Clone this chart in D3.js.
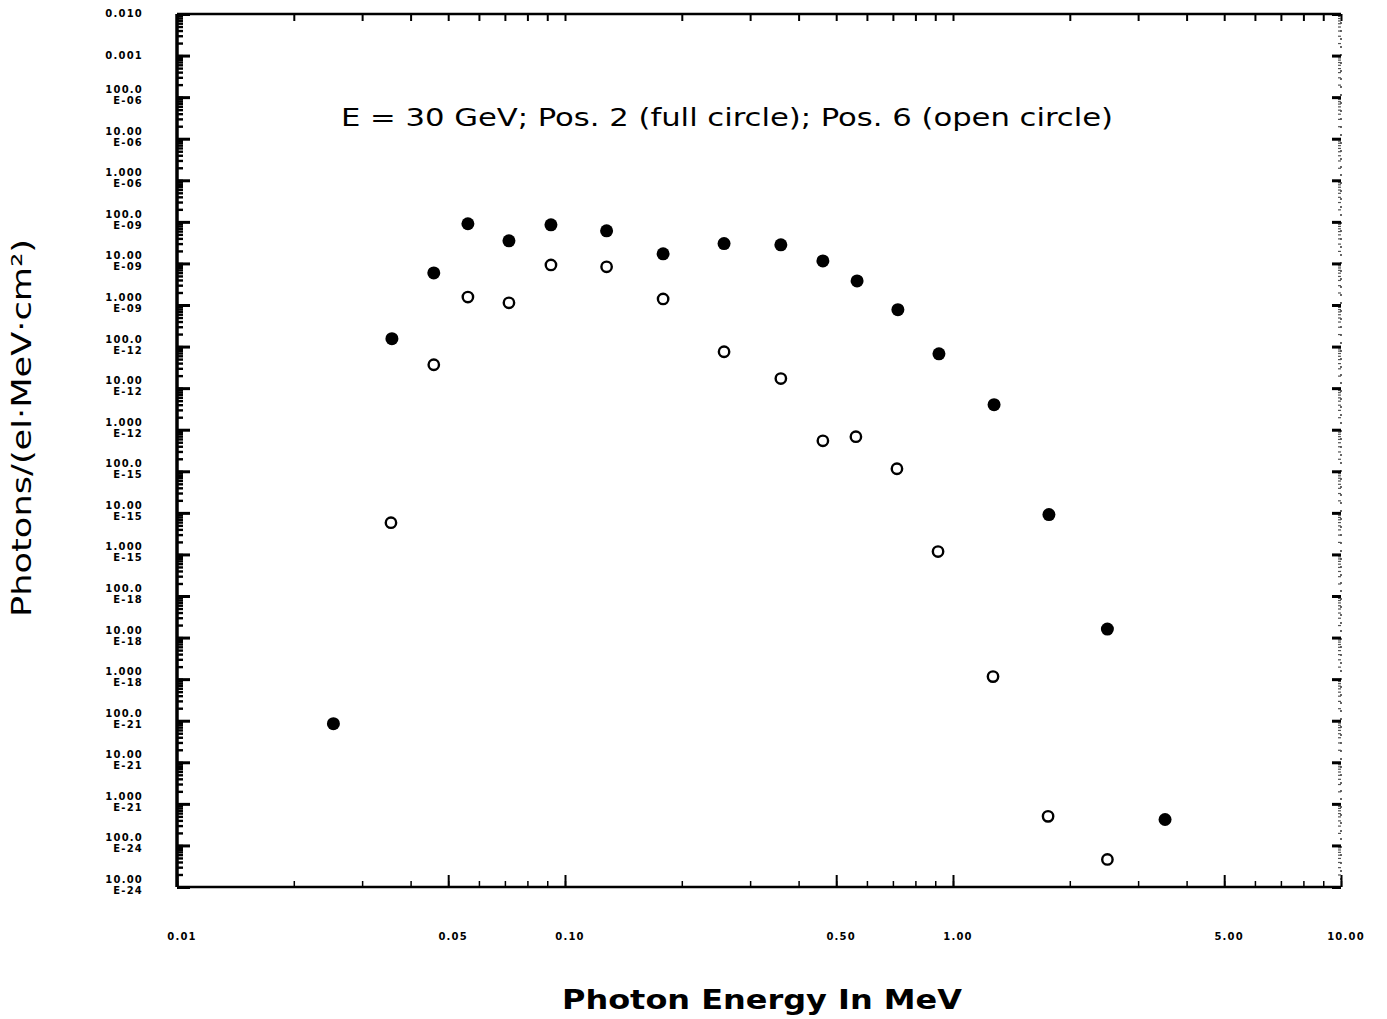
<!DOCTYPE html>
<html>
<head>
<meta charset="utf-8">
<script src="https://cdn.jsdelivr.net/npm/d3@7"></script>
<style>
  body { margin: 0; background: #fff; }
  svg { display: block; }
  .tickLabel { font-family: "DejaVu Sans", sans-serif; font-weight: bold; font-size: 10px; letter-spacing: 1.2px; fill: #000; }
  .axisLabel { font-family: "DejaVu Sans", sans-serif; fill: #000; }
  .note { font-family: "DejaVu Sans Condensed", "DejaVu Sans", sans-serif; font-size: 24px; fill: #000; }
  .full { fill: #000; }
  .open { fill: none; stroke: #000; stroke-width: 2.4; }
</style>
</head>
<body>
<script>
// photon energies (MeV) of the measured points
let energyFull = [0.0253, 0.0358, 0.0459, 0.0562, 0.0717, 0.092, 0.128, 0.179, 0.257, 0.36, 0.462, 0.566, 0.721, 0.92, 1.276, 1.767, 2.5, 3.52];
// Pos. 2 (full circle)
let fluxFull = [8.5e-20, 1.55e-10, 5.9e-9, 9.0e-8, 3.5e-8, 8.5e-8, 6.1e-8, 1.7e-8, 3.0e-8, 2.8e-8, 1.15e-8, 3.8e-9, 7.7e-10, 6.7e-11, 4.0e-12, 9.1e-15, 1.6e-17, 4.2e-22];

let energyOpen = [0.0356, 0.0459, 0.0562, 0.0717, 0.092, 0.128, 0.179, 0.257, 0.36, 0.462, 0.562, 0.717, 0.915, 1.268, 1.758, 2.5];
// Pos. 6 (open circle)
let fluxOpen = [5.8e-15, 3.65e-11, 1.55e-9, 1.13e-9, 9.2e-9, 8.3e-9, 1.4e-9, 7.5e-11, 1.7e-11, 5.4e-13, 6.8e-13, 1.15e-13, 1.17e-15, 1.15e-18, 5.0e-22, 4.6e-23];

// axis ticks and their printed labels (as on the original plot)
let xTickValues = [0.01, 0.05, 0.1, 0.5, 1, 5, 10];
let xTickLabels = ["0.01", "0.05", "0.10", "0.50", "1.00", "5.00", "10.00"];

let yTickValues = [1e-2, 1e-3, 1e-4, 1e-5, 1e-6, 1e-7, 1e-8, 1e-9, 1e-10, 1e-11, 1e-12,
                   1e-13, 1e-14, 1e-15, 1e-16, 1e-17, 1e-18, 1e-19, 1e-20, 1e-21, 1e-22, 1e-23];
let yTickLabels = [["0.010"], ["0.001"],
  ["100.0", "E-06"], ["10.00", "E-06"], ["1.000", "E-06"],
  ["100.0", "E-09"], ["10.00", "E-09"], ["1.000", "E-09"],
  ["100.0", "E-12"], ["10.00", "E-12"], ["1.000", "E-12"],
  ["100.0", "E-15"], ["10.00", "E-15"], ["1.000", "E-15"],
  ["100.0", "E-18"], ["10.00", "E-18"], ["1.000", "E-18"],
  ["100.0", "E-21"], ["10.00", "E-21"], ["1.000", "E-21"],
  ["100.0", "E-24"], ["10.00", "E-24"]];

let svgWidth = 1387, svgHeight = 1019;
let plotLeft = 177, plotRight = 1341, plotTop = 14, plotBottom = 887;

let xScale = d3.scaleLog().domain([0.01, 10]).range([plotLeft, plotRight]);
let yScale = d3.scaleLog().domain([1e-2, 1e-23]).range([plotTop, plotBottom]);

let svg = d3.select("body").append("svg")
  .attr("width", svgWidth)
  .attr("height", svgHeight);

// minor tick positions for the log axes
let xMinor = xScale.ticks();
let yMinor = [];
for (let e = -23; e <= -3; e++) {
  for (let k = 1; k < 10; k++) yMinor.push(k * Math.pow(10, e));
}

// frame
svg.append("line").attr("x1", plotLeft).attr("x2", plotRight).attr("y1", plotTop).attr("y2", plotTop)
  .attr("stroke", "#000").attr("stroke-width", 2.5);
svg.append("line").attr("x1", plotLeft).attr("x2", plotRight).attr("y1", plotBottom).attr("y2", plotBottom)
  .attr("stroke", "#000").attr("stroke-width", 2.5);
svg.append("line").attr("x1", plotLeft).attr("x2", plotLeft).attr("y1", plotTop).attr("y2", plotBottom)
  .attr("stroke", "#000").attr("stroke-width", 3.5);
svg.append("line").attr("x1", plotRight).attr("x2", plotRight).attr("y1", plotTop).attr("y2", plotBottom)
  .attr("stroke", "#000").attr("stroke-width", 1.2).attr("stroke-dasharray", "2,6");

// bottom ticks (pointing up)
svg.append("g")
  .attr("transform", "translate(0," + plotBottom + ")")
  .call(d3.axisBottom(xScale).tickValues(xMinor).tickSize(-6).tickFormat(""))
  .call(g => g.select(".domain").remove())
  .selectAll("line").attr("stroke-width", 1.5);
svg.append("g")
  .attr("transform", "translate(0," + plotBottom + ")")
  .call(d3.axisBottom(xScale).tickValues(xTickValues).tickSize(-12).tickFormat(""))
  .call(g => g.select(".domain").remove())
  .selectAll("line").attr("stroke-width", 2);

// top ticks (pointing down)
svg.append("g")
  .attr("transform", "translate(0," + plotTop + ")")
  .call(d3.axisTop(xScale).tickValues(xMinor).tickSize(-7).tickFormat(""))
  .call(g => g.select(".domain").remove())
  .selectAll("line").attr("stroke-width", 2);

// left ticks (pointing in, heavy)
svg.append("g")
  .attr("transform", "translate(" + plotLeft + ",0)")
  .call(d3.axisLeft(yScale).tickValues(yMinor).tickSize(-6).tickFormat(""))
  .call(g => g.select(".domain").remove())
  .selectAll("line").attr("stroke-width", 2.4);
svg.append("g")
  .attr("transform", "translate(" + plotLeft + ",0)")
  .call(d3.axisLeft(yScale).tickValues(yTickValues).tickSize(-13).tickFormat(""))
  .call(g => g.select(".domain").remove())
  .selectAll("line").attr("stroke-width", 3);

// right ticks (pointing in)
svg.append("g")
  .attr("transform", "translate(" + plotRight + ",0)")
  .call(d3.axisRight(yScale).tickValues(yMinor).tickSize(-3).tickFormat(""))
  .call(g => g.select(".domain").remove())
  .selectAll("line").attr("stroke-width", 1.2).attr("stroke", "#555");
svg.append("g")
  .attr("transform", "translate(" + plotRight + ",0)")
  .call(d3.axisRight(yScale).tickValues(yTickValues).tickSize(-9).tickFormat(""))
  .call(g => g.select(".domain").remove())
  .selectAll("line").attr("stroke-width", 3);

// y tick labels (one or two lines)
let yLab = svg.selectAll(".ylab")
  .data(yTickValues)
  .enter().append("text")
  .attr("class", "tickLabel")
  .attr("text-anchor", "end")
  .attr("x", 143)
  .attr("y", d => yScale(d));
yLab.each(function(d, i) {
  let lines = yTickLabels[i];
  let t = d3.select(this);
  if (lines.length == 1) {
    t.append("tspan").attr("x", 143).attr("dy", 3).text(lines[0]);
  } else {
    t.append("tspan").attr("x", 143).attr("dy", -4).text(lines[0]);
    t.append("tspan").attr("x", 143).attr("dy", 11).text(lines[1]);
  }
});

// x tick labels
svg.selectAll(".xlab")
  .data(xTickValues)
  .enter().append("text")
  .attr("class", "tickLabel")
  .attr("text-anchor", "middle")
  .attr("x", d => xScale(d) + 5)
  .attr("y", 940)
  .text((d, i) => xTickLabels[i]);

// axis titles
svg.append("text")
  .attr("class", "axisLabel")
  .attr("x", 762)
  .attr("y", 1009)
  .attr("text-anchor", "middle")
  .attr("font-size", 26)
  .attr("font-weight", "bold")
  .attr("textLength", 400)
  .attr("lengthAdjust", "spacingAndGlyphs")
  .text("Photon Energy In MeV");

svg.append("text")
  .attr("class", "axisLabel")
  .attr("transform", "rotate(270)")
  .attr("x", -428)
  .attr("y", 31)
  .attr("text-anchor", "middle")
  .attr("font-size", 26)
  .attr("textLength", 378)
  .attr("lengthAdjust", "spacingAndGlyphs")
  .text("Photons/(el\u00b7MeV\u00b7cm\u00b2)");

// annotation
svg.append("text")
  .attr("class", "note")
  .attr("x", 341)
  .attr("y", 126)
  .attr("textLength", 772)
  .attr("lengthAdjust", "spacingAndGlyphs")
  .text("E = 30 GeV;  Pos. 2 (full circle); Pos. 6 (open circle)");

// points
let fullData = energyFull.map((e, i) => [e, fluxFull[i]]);
let openData = energyOpen.map((e, i) => [e, fluxOpen[i]]);

svg.selectAll(".full")
  .data(fullData)
  .enter().append("circle")
  .attr("class", "full")
  .attr("r", 6.5)
  .attr("cx", d => xScale(d[0]))
  .attr("cy", d => yScale(d[1]));

svg.selectAll(".open")
  .data(openData)
  .enter().append("circle")
  .attr("class", "open")
  .attr("r", 5.2)
  .attr("cx", d => xScale(d[0]))
  .attr("cy", d => yScale(d[1]));
</script>
</body>
</html>
